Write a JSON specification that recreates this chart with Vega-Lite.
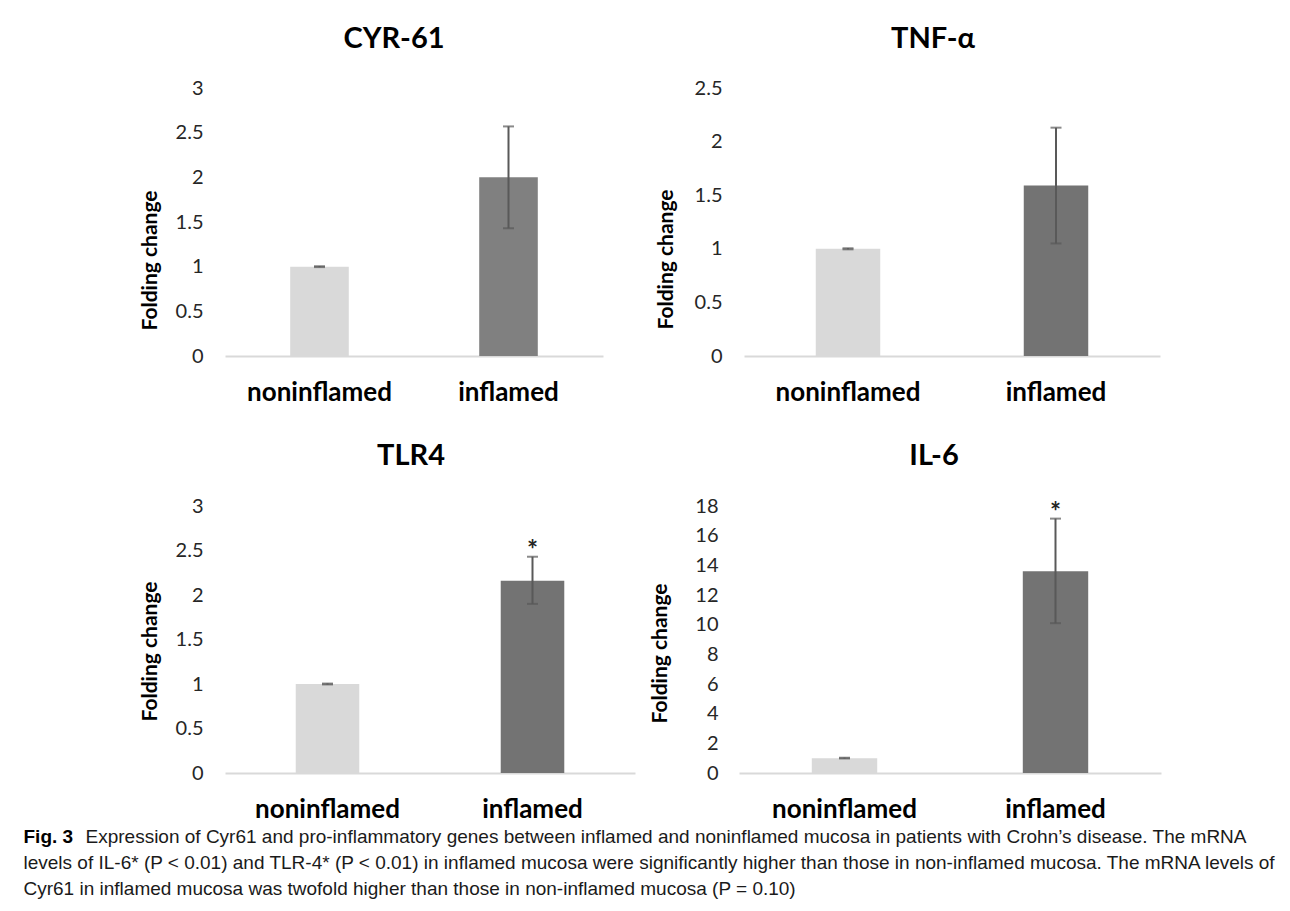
{
  "$schema": "https://vega.github.io/schema/vega-lite/v6.json",
  "background": "white",
  "padding": {"left": 23, "top": 25, "right": 5, "bottom": 5},
  "config": {"view": {"stroke": null}},
  "datasets": {
    "genes": [
      {"gene": "CYR-61", "condition": "noninflamed", "value": 1.0, "lo": 0.995, "hi": 1.005, "star": ""},
      {"gene": "CYR-61", "condition": "inflamed", "value": 2.0, "lo": 1.43, "hi": 2.57, "star": ""},
      {"gene": "TNF-α", "condition": "noninflamed", "value": 1.0, "lo": 0.995, "hi": 1.005, "star": ""},
      {"gene": "TNF-α", "condition": "inflamed", "value": 1.59, "lo": 1.05, "hi": 2.13, "star": ""},
      {"gene": "TLR4", "condition": "noninflamed", "value": 1.0, "lo": 0.995, "hi": 1.005, "star": ""},
      {"gene": "TLR4", "condition": "inflamed", "value": 2.16, "lo": 1.9, "hi": 2.43, "star": "*"},
      {"gene": "IL-6", "condition": "noninflamed", "value": 1.0, "lo": 0.98, "hi": 1.03, "star": ""},
      {"gene": "IL-6", "condition": "inflamed", "value": 13.6, "lo": 10.1, "hi": 17.15, "star": "*"}
    ],
    "caption": [
      {"line": 1, "lead": "Fig. 3", "text": "Expression of Cyr61 and pro-inflammatory genes between inflamed and noninflamed mucosa in patients with Crohn’s disease. The mRNA"},
      {"line": 2, "lead": "", "text": "levels of IL-6* (P < 0.01) and TLR-4* (P < 0.01) in inflamed mucosa were significantly higher than those in non-inflamed mucosa. The mRNA levels of"},
      {"line": 3, "lead": "", "text": "Cyr61 in inflamed mucosa was twofold higher than those in non-inflamed mucosa (P = 0.10)"}
    ]
  },
  "vconcat": [
    {
      "vconcat": [
        {
          "hconcat": [
            {
              "width": 378, "height": 268,
              "data": {"name": "genes"},
              "transform": [{"filter": "datum.gene === 'CYR-61'"}],
              "title": {"text": "CYR-61", "frame": "group", "anchor": "middle", "dx": -20, "offset": 1, "baseline": "alphabetic", "font": "Lato", "fontSize": 29, "fontWeight": "bold", "color": "#000000"},
              "encoding": {
                "x": {"field": "condition", "type": "nominal", "sort": ["noninflamed", "inflamed"], "scale": {"paddingInner": 0.69, "paddingOuter": 0.345},
                  "axis": {"title": null, "domain": true, "domainColor": "#d9d9d9", "domainWidth": 2, "ticks": false, "tickSize": 0, "labelAngle": 0, "labelFont": "Lato", "labelFontSize": 26, "labelFontWeight": "bold", "labelColor": "#000000", "labelPadding": 44, "labelBaseline": "alphabetic"}}
              },
              "layer": [
                {"mark": {"type": "bar"},
                 "encoding": {
                   "y": {"field": "value", "type": "quantitative", "scale": {"domain": [0, 3], "nice": false},
                     "axis": {"title": "Folding change", "values": [0, 0.5, 1, 1.5, 2, 2.5, 3], "format": "~g", "labelOverlap": false, "domain": false, "ticks": false, "grid": false, "labelFont": "Lato", "labelFontSize": 20, "labelColor": "#262626", "labelPadding": 22, "titleFont": "Lato", "titleFontSize": 21, "titleFontWeight": "bold", "titleColor": "#000000", "titleX": -75, "titleY": 172, "titleAngle": -90, "titleAlign": "center", "titleBaseline": "middle"}},
                   "color": {"condition": {"test": "datum.condition === 'inflamed'", "value": "#808080"}, "value": "#d9d9d9"}
                 }},
                {"mark": {"type": "errorbar", "ticks": {"size": 11, "thickness": 2, "color": "#595959"}, "rule": {"strokeWidth": 2, "color": "#595959"}},
                 "encoding": {"y": {"field": "lo", "type": "quantitative",
                     "axis": {"title": "Folding change", "values": [0, 0.5, 1, 1.5, 2, 2.5, 3], "format": "~g", "labelOverlap": false, "domain": false, "ticks": false, "grid": false, "labelFont": "Lato", "labelFontSize": 20, "labelColor": "#262626", "labelPadding": 22, "titleFont": "Lato", "titleFontSize": 21, "titleFontWeight": "bold", "titleColor": "#000000", "titleX": -75, "titleY": 172, "titleAngle": -90, "titleAlign": "center", "titleBaseline": "middle"}},
                   "y2": {"field": "hi"}}}
              ]
            },
            {
              "width": 416, "height": 268,
              "data": {"name": "genes"},
              "transform": [{"filter": "datum.gene === 'TNF-α'"}],
              "title": {"text": "TNF-α", "frame": "group", "anchor": "middle", "dx": -19, "offset": 1, "baseline": "alphabetic", "font": "Lato", "fontSize": 29, "fontWeight": "bold", "color": "#000000"},
              "encoding": {
                "x": {"field": "condition", "type": "nominal", "sort": ["noninflamed", "inflamed"], "scale": {"paddingInner": 0.69, "paddingOuter": 0.345},
                  "axis": {"title": null, "domain": true, "domainColor": "#d9d9d9", "domainWidth": 2, "ticks": false, "tickSize": 0, "labelAngle": 0, "labelFont": "Lato", "labelFontSize": 26, "labelFontWeight": "bold", "labelColor": "#000000", "labelPadding": 44, "labelBaseline": "alphabetic"}}
              },
              "layer": [
                {"mark": {"type": "bar"},
                 "encoding": {
                   "y": {"field": "value", "type": "quantitative", "scale": {"domain": [0, 2.5], "nice": false},
                     "axis": {"title": "Folding change", "values": [0, 0.5, 1, 1.5, 2, 2.5], "format": "~g", "labelOverlap": false, "domain": false, "ticks": false, "grid": false, "labelFont": "Lato", "labelFontSize": 20, "labelColor": "#262626", "labelPadding": 22, "titleFont": "Lato", "titleFontSize": 21, "titleFontWeight": "bold", "titleColor": "#000000", "titleX": -78, "titleY": 171, "titleAngle": -90, "titleAlign": "center", "titleBaseline": "middle"}},
                   "color": {"condition": {"test": "datum.condition === 'inflamed'", "value": "#737373"}, "value": "#d9d9d9"}
                 }},
                {"mark": {"type": "errorbar", "ticks": {"size": 11, "thickness": 2, "color": "#595959"}, "rule": {"strokeWidth": 2, "color": "#595959"}},
                 "encoding": {"y": {"field": "lo", "type": "quantitative",
                     "axis": {"title": "Folding change", "values": [0, 0.5, 1, 1.5, 2, 2.5], "format": "~g", "labelOverlap": false, "domain": false, "ticks": false, "grid": false, "labelFont": "Lato", "labelFontSize": 20, "labelColor": "#262626", "labelPadding": 22, "titleFont": "Lato", "titleFontSize": 21, "titleFontWeight": "bold", "titleColor": "#000000", "titleX": -78, "titleY": 171, "titleAngle": -90, "titleAlign": "center", "titleBaseline": "middle"}},
                   "y2": {"field": "hi"}}}
              ]
            }
          ],
          "spacing": 141,
          "bounds": "flush"
        },
        {
          "hconcat": [
            {
              "width": 410, "height": 267,
              "data": {"name": "genes"},
              "transform": [{"filter": "datum.gene === 'TLR4'"}],
              "title": {"text": "TLR4", "frame": "group", "anchor": "middle", "dx": -19, "offset": 2, "baseline": "alphabetic", "font": "Lato", "fontSize": 29, "fontWeight": "bold", "color": "#000000"},
              "encoding": {
                "x": {"field": "condition", "type": "nominal", "sort": ["noninflamed", "inflamed"], "scale": {"paddingInner": 0.69, "paddingOuter": 0.345},
                  "axis": {"title": null, "domain": true, "domainColor": "#d9d9d9", "domainWidth": 2, "ticks": false, "tickSize": 0, "labelAngle": 0, "labelFont": "Lato", "labelFontSize": 26, "labelFontWeight": "bold", "labelColor": "#000000", "labelPadding": 44, "labelBaseline": "alphabetic"}}
              },
              "layer": [
                {"mark": {"type": "bar"},
                 "encoding": {
                   "y": {"field": "value", "type": "quantitative", "scale": {"domain": [0, 3], "nice": false},
                     "axis": {"title": "Folding change", "values": [0, 0.5, 1, 1.5, 2, 2.5, 3], "format": "~g", "labelOverlap": false, "domain": false, "ticks": false, "grid": false, "labelFont": "Lato", "labelFontSize": 20, "labelColor": "#262626", "labelPadding": 22, "titleFont": "Lato", "titleFontSize": 21, "titleFontWeight": "bold", "titleColor": "#000000", "titleX": -75, "titleY": 145, "titleAngle": -90, "titleAlign": "center", "titleBaseline": "middle"}},
                   "color": {"condition": {"test": "datum.condition === 'inflamed'", "value": "#737373"}, "value": "#d9d9d9"}
                 }},
                {"mark": {"type": "errorbar", "ticks": {"size": 11, "thickness": 2, "color": "#595959"}, "rule": {"strokeWidth": 2, "color": "#595959"}},
                 "encoding": {"y": {"field": "lo", "type": "quantitative",
                     "axis": {"title": "Folding change", "values": [0, 0.5, 1, 1.5, 2, 2.5, 3], "format": "~g", "labelOverlap": false, "domain": false, "ticks": false, "grid": false, "labelFont": "Lato", "labelFontSize": 20, "labelColor": "#262626", "labelPadding": 22, "titleFont": "Lato", "titleFontSize": 21, "titleFontWeight": "bold", "titleColor": "#000000", "titleX": -75, "titleY": 145, "titleAngle": -90, "titleAlign": "center", "titleBaseline": "middle"}},
                   "y2": {"field": "hi"}}},
                {"transform": [{"filter": "datum.star !== ''"}],
                 "mark": {"type": "text", "font": "Lato", "fontSize": 26, "fontWeight": "bold", "color": "#262626", "baseline": "alphabetic", "align": "center", "dy": 2},
                 "encoding": {"y": {"field": "hi", "type": "quantitative",
                     "axis": {"title": "Folding change", "values": [0, 0.5, 1, 1.5, 2, 2.5, 3], "format": "~g", "labelOverlap": false, "domain": false, "ticks": false, "grid": false, "labelFont": "Lato", "labelFontSize": 20, "labelColor": "#262626", "labelPadding": 22, "titleFont": "Lato", "titleFontSize": 21, "titleFontWeight": "bold", "titleColor": "#000000", "titleX": -75, "titleY": 145, "titleAngle": -90, "titleAlign": "center", "titleBaseline": "middle"}},
                   "text": {"field": "star"}}}
              ]
            },
            {
              "width": 422, "height": 267,
              "data": {"name": "genes"},
              "transform": [{"filter": "datum.gene === 'IL-6'"}],
              "title": {"text": "IL-6", "frame": "group", "anchor": "middle", "dx": -16, "offset": 2, "baseline": "alphabetic", "font": "Lato", "fontSize": 29, "fontWeight": "bold", "color": "#000000"},
              "encoding": {
                "x": {"field": "condition", "type": "nominal", "sort": ["noninflamed", "inflamed"], "scale": {"paddingInner": 0.69, "paddingOuter": 0.345},
                  "axis": {"title": null, "domain": true, "domainColor": "#d9d9d9", "domainWidth": 2, "ticks": false, "tickSize": 0, "labelAngle": 0, "labelFont": "Lato", "labelFontSize": 26, "labelFontWeight": "bold", "labelColor": "#000000", "labelPadding": 44, "labelBaseline": "alphabetic"}}
              },
              "layer": [
                {"mark": {"type": "bar"},
                 "encoding": {
                   "y": {"field": "value", "type": "quantitative", "scale": {"domain": [0, 18], "nice": false},
                     "axis": {"title": "Folding change", "values": [0, 2, 4, 6, 8, 10, 12, 14, 16, 18], "format": "~g", "labelOverlap": false, "domain": false, "ticks": false, "grid": false, "labelFont": "Lato", "labelFontSize": 20, "labelColor": "#262626", "labelPadding": 21, "titleFont": "Lato", "titleFontSize": 21, "titleFontWeight": "bold", "titleColor": "#000000", "titleX": -79, "titleY": 147, "titleAngle": -90, "titleAlign": "center", "titleBaseline": "middle"}},
                   "color": {"condition": {"test": "datum.condition === 'inflamed'", "value": "#737373"}, "value": "#d9d9d9"}
                 }},
                {"mark": {"type": "errorbar", "ticks": {"size": 11, "thickness": 2, "color": "#595959"}, "rule": {"strokeWidth": 2, "color": "#595959"}},
                 "encoding": {"y": {"field": "lo", "type": "quantitative",
                     "axis": {"title": "Folding change", "values": [0, 2, 4, 6, 8, 10, 12, 14, 16, 18], "format": "~g", "labelOverlap": false, "domain": false, "ticks": false, "grid": false, "labelFont": "Lato", "labelFontSize": 20, "labelColor": "#262626", "labelPadding": 21, "titleFont": "Lato", "titleFontSize": 21, "titleFontWeight": "bold", "titleColor": "#000000", "titleX": -79, "titleY": 147, "titleAngle": -90, "titleAlign": "center", "titleBaseline": "middle"}},
                   "y2": {"field": "hi"}}},
                {"transform": [{"filter": "datum.star !== ''"}],
                 "mark": {"type": "text", "font": "Lato", "fontSize": 26, "fontWeight": "bold", "color": "#262626", "baseline": "alphabetic", "align": "center", "dy": 2},
                 "encoding": {"y": {"field": "hi", "type": "quantitative",
                     "axis": {"title": "Folding change", "values": [0, 2, 4, 6, 8, 10, 12, 14, 16, 18], "format": "~g", "labelOverlap": false, "domain": false, "ticks": false, "grid": false, "labelFont": "Lato", "labelFontSize": 20, "labelColor": "#262626", "labelPadding": 21, "titleFont": "Lato", "titleFontSize": 21, "titleFontWeight": "bold", "titleColor": "#000000", "titleX": -79, "titleY": 147, "titleAngle": -90, "titleAlign": "center", "titleBaseline": "middle"}},
                   "text": {"field": "star"}}}
              ]
            }
          ],
          "spacing": 104,
          "bounds": "flush"
        }
      ],
      "spacing": 37
    },
    {
      "width": 823, "height": 78,
      "data": {"name": "caption"},
      "encoding": {
        "y": {"field": "line", "type": "ordinal", "axis": null, "scale": {"domain": [1, 2, 3]}}
      },
      "layer": [
        {"transform": [{"filter": "datum.lead !== ''"}],
         "mark": {"type": "text", "align": "left", "baseline": "alphabetic", "dx": -613, "dy": 4, "font": "Liberation Sans", "fontSize": 19, "fontWeight": "bold", "color": "#000000"},
         "encoding": {"text": {"field": "lead"}}},
        {"transform": [{"filter": "datum.line === 1"}],
         "mark": {"type": "text", "align": "left", "baseline": "alphabetic", "dx": -551, "dy": 4, "font": "Liberation Sans", "fontSize": 19, "color": "#1a1a1a"},
         "encoding": {"text": {"field": "text"}}},
        {"transform": [{"filter": "datum.line !== 1"}],
         "mark": {"type": "text", "align": "left", "baseline": "alphabetic", "dx": -613, "dy": 4, "font": "Liberation Sans", "fontSize": 19, "color": "#1a1a1a"},
         "encoding": {"text": {"field": "text"}}}
      ]
    }
  ],
  "spacing": 4
}
